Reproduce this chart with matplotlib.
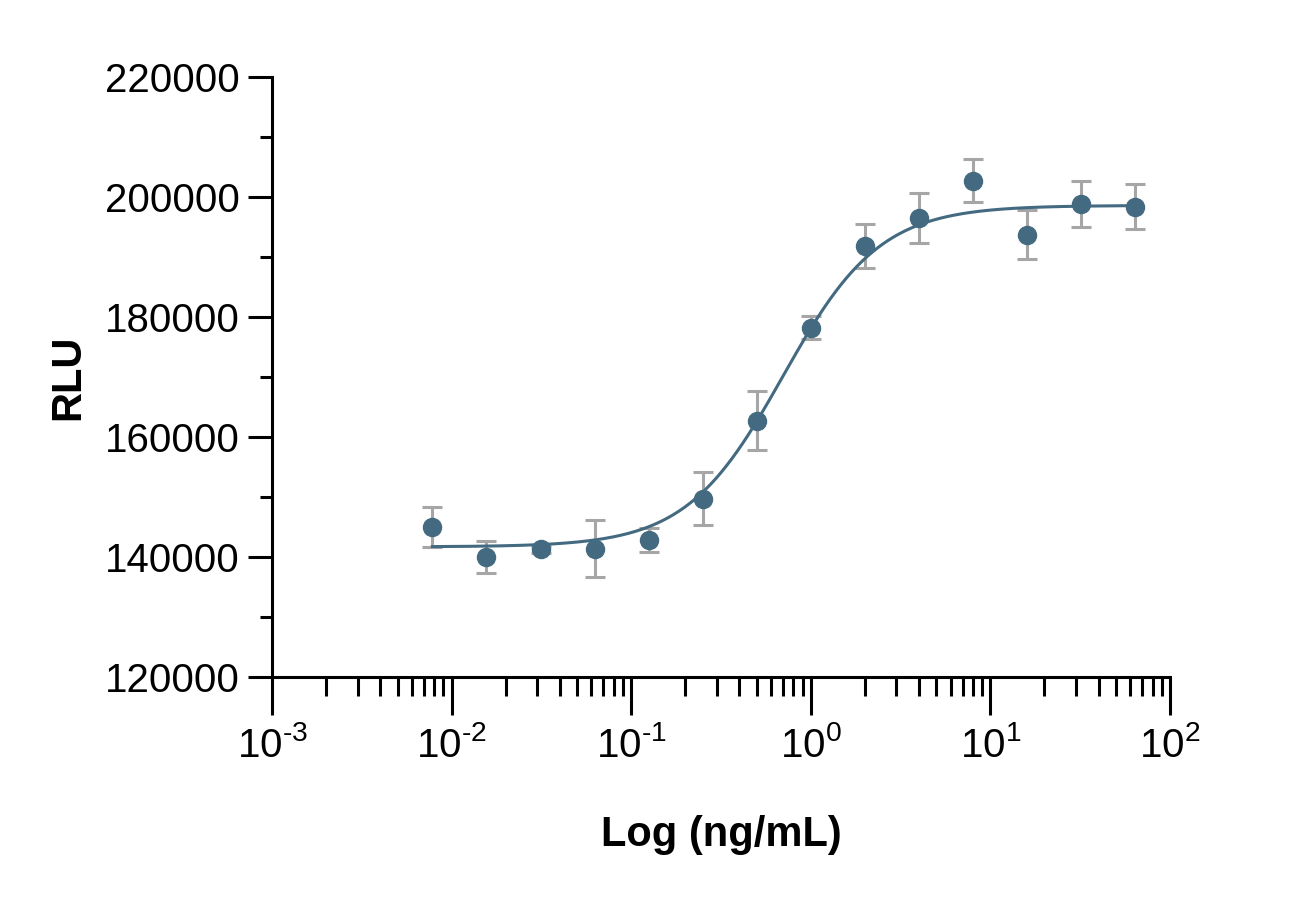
import numpy as np
import matplotlib.pyplot as plt
from matplotlib.ticker import LogLocator, MultipleLocator, NullFormatter, FuncFormatter

plt.rcParams['font.family'] = ['Liberation Sans', 'DejaVu Sans']
plt.rcParams['mathtext.fontset'] = 'custom'
plt.rcParams['mathtext.rm'] = 'Liberation Sans'
plt.rcParams['axes.unicode_minus'] = False

# concentrations (ng/mL) and RLU readings
conc = [0.0078125, 0.015625, 0.03125, 0.0625, 0.125, 0.25, 0.5,
        1, 2, 4, 8, 16, 32, 64]
rlu = [145000, 140000, 141300, 141400, 142800, 149700, 162700,
       178200, 191800, 196500, 202700, 193700, 198800, 198400]
err = [3300, 2600, 600, 4700, 2000, 4400, 4900,
       1900, 3700, 4100, 3600, 4100, 3800, 3700]

# 4PL fit parameters
bottom = 141700
top = 198600
ec50 = 0.70
hill = 1.61

POINT_COLOR = '#436a80'
ERR_COLOR = '#a6a6a6'


def decade_label(v, pos):
    e = int(round(np.log10(v)))
    if e < 0:
        return r'$\mathdefault{10^{\text{-%d}}}$' % (-e)
    return r'$\mathdefault{10^{%d}}$' % e


fig = plt.figure(figsize=(13.03, 8.99), dpi=100)
ax = fig.add_axes([0.2088, 0.2469, 0.6891, 0.6674])

xs = np.logspace(np.log10(conc[0]), np.log10(conc[-1]), 400)
fit = bottom + (top - bottom) / (1 + (ec50 / xs) ** hill)

ax.errorbar(conc, rlu, yerr=err, fmt='none', ecolor=ERR_COLOR,
            elinewidth=2.2, capsize=7, capthick=2.2, zorder=1)
ax.plot(xs, fit, color=POINT_COLOR, linewidth=2.2, zorder=2)
ax.plot(conc, rlu, 'o', color=POINT_COLOR, markersize=13, zorder=3)

ax.set_xscale('log')
ax.set_xlim(1e-3, 1e2)
ax.set_ylim(120000, 220000)
ax.xaxis.set_major_locator(LogLocator(base=10, numticks=10))
ax.xaxis.set_major_formatter(FuncFormatter(decade_label))
ax.xaxis.set_minor_locator(LogLocator(base=10, subs=np.arange(2, 10), numticks=20))
ax.xaxis.set_minor_formatter(NullFormatter())
ax.yaxis.set_major_locator(MultipleLocator(20000))
ax.yaxis.set_minor_locator(MultipleLocator(10000))

for s in ['top', 'right']:
    ax.spines[s].set_visible(False)
for s in ['left', 'bottom']:
    ax.spines[s].set_linewidth(2.2)

ax.tick_params(axis='x', which='major', length=27, width=2.2, labelsize=29, pad=8)
ax.tick_params(axis='x', which='minor', length=14, width=2.2)
ax.tick_params(axis='y', which='major', length=17, width=2.2, labelsize=29, pad=6)
ax.tick_params(axis='y', which='minor', length=9, width=2.2)

ax.set_xlabel('Log (ng/mL)', fontsize=30, fontweight='bold', labelpad=36)
ax.set_ylabel('RLU', fontsize=30, fontweight='bold', labelpad=12)

fig.savefig('out.png', dpi=100)
